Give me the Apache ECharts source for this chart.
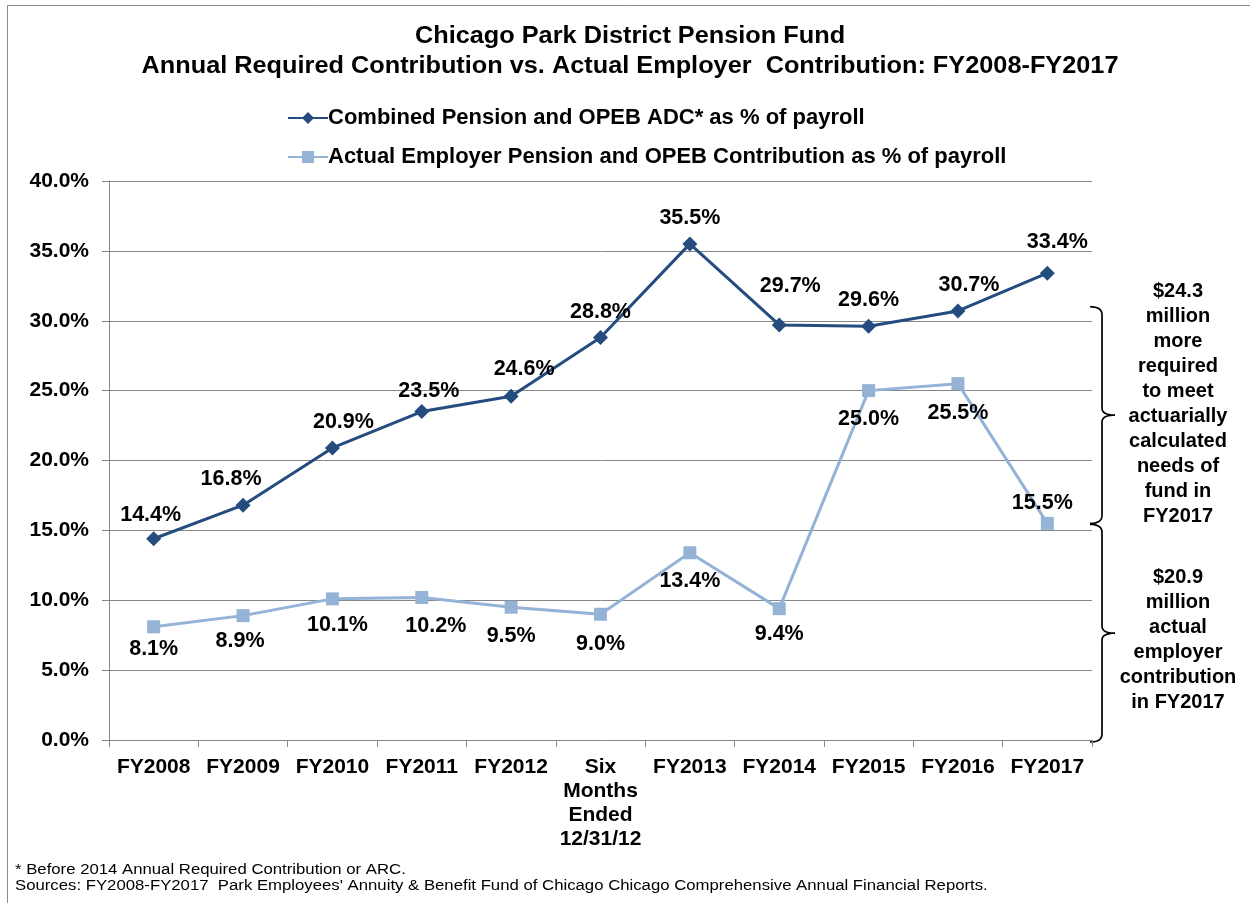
<!DOCTYPE html>
<html>
<head>
<meta charset="utf-8">
<script src="https://cdn.jsdelivr.net/npm/echarts@6/dist/echarts.min.js"></script>
<style>
  html, body { margin: 0; padding: 0; background: #fff; }
  #chart { width: 1250px; height: 903px; }
</style>
</head>
<body>
<div id="chart"></div>
<script>
// categories and values (percent of payroll)
const years = ["FY2008", "FY2009", "FY2010", "FY2011", "FY2012", "Six\nMonths\nEnded\n12/31/12",
  "FY2013", "FY2014", "FY2015", "FY2016", "FY2017"];
const adcPct = [14.4, 16.8, 20.9, 23.5, 24.6, 28.8, 35.5, 29.7, 29.6, 30.7, 33.4];
const actualPct = [8.1, 8.9, 10.1, 10.2, 9.5, 9.0, 13.4, 9.4, 25.0, 25.5, 15.5];

const titleLines = ["Chicago Park District Pension Fund",
  "Annual Required Contribution vs. Actual Employer  Contribution: FY2008-FY2017"];
const adcName = "Combined Pension and OPEB ADC* as % of payroll";
const actualName = "Actual Employer Pension and OPEB Contribution as % of payroll";

// label nudges (px, from point centre) so labels sit like the original
const adcLabelShift = [[-3, -24], [-12, -26], [11, -26], [7, -21], [13, -27], [0, -25],
  [0, -26], [11, -39], [0, -26], [11, -26], [10, -31]];
const actualLabelShift = [[0, 22], [-3, 25], [5, 26], [14, 29], [0, 29], [0, 30],
  [0, 28], [0, 25], [0, 28], [0, 29], [-5, -20]];

const topNote = ["$24.3", "million", "more", "required", "to meet", "actuarially",
  "calculated", "needs of", "fund in", "FY2017"];
const bottomNote = ["$20.9", "million", "actual", "employer", "contribution", "in FY2017"];
const footNotes = ["* Before 2014 Annual Required Contribution or ARC.",
  "Sources: FY2008-FY2017  Park Employees' Annuity & Benefit Fund of Chicago Chicago Comprehensive Annual Financial Reports."];

const DARK = "#244C7F";
const LIGHT = "#95B3D7";
const FONT = "Liberation Sans, Arial, sans-serif";

const chart = echarts.init(document.getElementById("chart"));

function withLabels(values, shifts) {
  return values.map((v, i) => ({
    value: v,
    label: { offset: shifts[i] }
  }));
}

const labelStyle = {
  show: true,
  position: "inside",
  color: "#000",
  fontFamily: FONT,
  fontWeight: "bold",
  fontSize: 21.5,
  formatter: (p) => p.value.toFixed(1) + "%"
};

chart.setOption({
  animation: false,
  backgroundColor: "#fff",
  legend: {
    orient: "vertical",
    left: 282,
    top: 102,
    itemGap: 17,
    itemWidth: 40,
    itemHeight: 15,
    textStyle: { fontFamily: FONT, fontWeight: "bold", fontSize: 22, color: "#000", padding: [0, 0, 0, -5] },
    data: [adcName, actualName]
  },
  grid: { left: 109, right: 158, top: 181, bottom: 163 },
  xAxis: {
    type: "category",
    data: years,
    boundaryGap: true,
    axisLine: { lineStyle: { color: "#868686", width: 1 } },
    axisTick: { show: true, length: 7, lineStyle: { color: "#868686" } },
    axisLabel: {
      color: "#000", fontFamily: FONT, fontWeight: "bold", fontSize: 21,
      lineHeight: 24, margin: 15, interval: 0
    }
  },
  yAxis: {
    type: "value",
    min: 0,
    max: 40,
    interval: 5,
    axisLine: { show: true, lineStyle: { color: "#868686", width: 1 } },
    axisTick: { show: true, length: 7, lineStyle: { color: "#868686" } },
    splitLine: { show: true, lineStyle: { color: "#868686", width: 1 } },
    axisLabel: {
      color: "#000", fontFamily: FONT, fontWeight: "bold", fontSize: 21, margin: 20,
      formatter: (v) => v.toFixed(1) + "%"
    }
  },
  series: [
    {
      name: adcName,
      type: "line",
      data: withLabels(adcPct, adcLabelShift),
      symbol: "diamond",
      symbolSize: 15,
      itemStyle: { color: DARK },
      lineStyle: { color: DARK, width: 3 },
      label: labelStyle,
      z: 3
    },
    {
      name: actualName,
      type: "line",
      data: withLabels(actualPct, actualLabelShift),
      symbol: "rect",
      symbolSize: 13,
      itemStyle: { color: LIGHT },
      lineStyle: { color: LIGHT, width: 3 },
      label: labelStyle,
      z: 2
    }
  ]
});

// curly brace '}' as a sampled polyline
function quad(p0, c, p1, out) {
  for (let t = 0; t <= 1.0001; t += 0.1) {
    const a = (1 - t) * (1 - t), b = 2 * (1 - t) * t, d = t * t;
    out.push([a * p0[0] + b * c[0] + d * p1[0], a * p0[1] + b * c[1] + d * p1[1]]);
  }
}
function brace(yTop, yBot, xEnd, xSpine, xTip) {
  const ym = (yTop + yBot) / 2;
  const pts = [];
  quad([xEnd, yTop], [xSpine, yTop], [xSpine, yTop + 8], pts);
  quad([xSpine, ym - 7], [xSpine, ym], [xTip, ym], pts);
  quad([xTip, ym], [xSpine, ym], [xSpine, ym + 7], pts);
  quad([xSpine, yBot - 8], [xSpine, yBot], [xEnd, yBot], pts);
  return {
    type: "polyline",
    shape: { points: pts },
    style: { fill: null, stroke: "#000", lineWidth: 1.7 }
  };
}

const yPix = (v) => chart.convertToPixel({ yAxisIndex: 0 }, v);
const yTopBrace = yPix(31.0);
const yMidBrace = yPix(actualPct[actualPct.length - 1]);
const yZero = yPix(0);

function centredLines(lines, cx, firstCenterY, step, font, scaleX) {
  return lines.map((t, i) => ({
    type: "text",
    x: cx,
    y: firstCenterY + i * step,
    scaleX: scaleX || 1,
    style: {
      text: t, fill: "#000", font: font,
      textAlign: "center", textVerticalAlign: "middle"
    }
  }));
}

chart.setOption({
  graphic: [
    { type: "rect", shape: { x: 7.5, y: 5.5, width: 1300, height: 1000 },
      style: { fill: null, stroke: "#8c8c8c", lineWidth: 1 }, silent: true, z: -1 },
    ...centredLines(titleLines, 630, 37, 30, "bold 23px " + FONT, 1.1),
    brace(yTopBrace, yMidBrace, 1090, 1102, 1115),
    brace(yMidBrace + 1, yZero + 2, 1090, 1102, 1115),
    ...centredLines(topNote, 1178, 291, 25, "bold 20px " + FONT),
    ...centredLines(bottomNote, 1178, 577, 25, "bold 20px " + FONT),
    ...footNotes.map((t, i) => ({
      type: "text", x: 15, y: 870 + i * 16, scaleX: 1.08,
      style: { text: t, fill: "#000", font: "15.5px " + FONT, textVerticalAlign: "middle" }
    }))
  ]
});
</script>
</body>
</html>
